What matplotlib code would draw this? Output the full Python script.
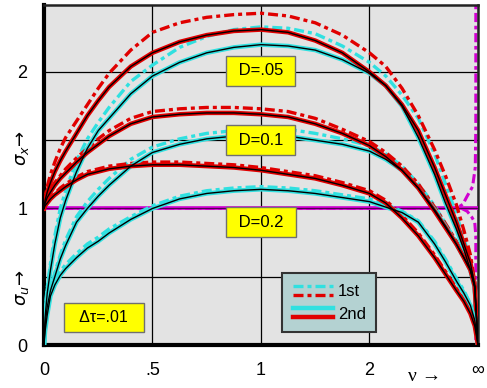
import matplotlib
matplotlib.use("Agg")
import matplotlib.pyplot as plt
from matplotlib.lines import Line2D
from matplotlib.legend_handler import HandlerBase

plt.rcParams['font.family'] = ['Liberation Sans', 'DejaVu Sans']

# x positions on the equally spaced frequency axis (0, .5, 1, 2, inf -> 0..4)
NU_POS = [0, 0.01, 0.03, 0.06, 0.1, 0.15, 0.2, 0.3, 0.4, 0.5, 0.6, 0.8, 1.0, 1.25, 1.5, 1.75,
          2.0, 2.25, 2.5, 2.75, 3.0, 3.15, 3.3, 3.45, 3.6, 3.7, 3.8, 3.87, 3.93, 3.97, 4.0]
X_TICK_POS = [0, 1, 2, 3, 4]
X_TICK_LABELS = ['0', '.5', '1', '2', '\u221e']
Y_TICK_POS = [0, 0.5, 1, 1.5, 2]
Y_TICK_LABELS = ['0', '', '1', '', '2']

# D = .05
sx_1st_d05 = [1.0, 1.08, 1.16, 1.25, 1.34, 1.44, 1.52, 1.64, 1.76, 1.88, 1.99, 2.16, 2.29, 2.36,
              2.40, 2.42, 2.43, 2.41, 2.36, 2.27, 2.14, 2.04, 1.88, 1.68, 1.43, 1.24, 1.03,
              0.84, 0.66, 0.46, 0.0]
sx_2nd_d05 = [1.0, 1.06, 1.12, 1.19, 1.27, 1.35, 1.42, 1.55, 1.68, 1.79, 1.89, 2.04, 2.14, 2.22,
              2.27, 2.30, 2.31, 2.29, 2.23, 2.14, 2.0, 1.90, 1.76, 1.57, 1.30, 1.10, 0.90,
              0.74, 0.60, 0.44, 0.0]
su_1st_d05 = [0.0, 0.22, 0.42, 0.60, 0.80, 1.0, 1.13, 1.35, 1.51, 1.63, 1.74, 1.93, 2.05, 2.18,
              2.26, 2.31, 2.33, 2.32, 2.28, 2.19, 2.07, 1.97, 1.83, 1.66, 1.40, 1.18, 0.96,
              0.78, 0.62, 0.45, 0.0]
su_2nd_d05 = [0.0, 0.2, 0.38, 0.55, 0.74, 0.93, 1.06, 1.27, 1.44, 1.57, 1.66, 1.84, 1.97, 2.07,
              2.14, 2.18, 2.20, 2.19, 2.16, 2.09, 1.99, 1.90, 1.75, 1.52, 1.25, 1.04, 0.85,
              0.70, 0.55, 0.42, 0.0]
# D = 0.1
sx_1st_d1 = [1.0, 1.05, 1.09, 1.14, 1.19, 1.24, 1.29, 1.37, 1.44, 1.51, 1.57, 1.66, 1.71, 1.73,
             1.74, 1.74, 1.73, 1.71, 1.66, 1.58, 1.49, 1.41, 1.31, 1.18, 1.01, 0.89, 0.76,
             0.66, 0.56, 0.44, 0.0]
sx_2nd_d1 = [1.0, 1.04, 1.08, 1.12, 1.17, 1.22, 1.26, 1.34, 1.41, 1.47, 1.53, 1.62, 1.67, 1.69,
             1.70, 1.70, 1.69, 1.67, 1.62, 1.55, 1.46, 1.38, 1.28, 1.15, 0.98, 0.86, 0.74,
             0.64, 0.55, 0.43, 0.0]
su_1st_d1 = [0.0, 0.16, 0.30, 0.42, 0.53, 0.66, 0.77, 0.94, 1.05, 1.14, 1.22, 1.36, 1.45, 1.51,
             1.55, 1.57, 1.58, 1.58, 1.55, 1.51, 1.46, 1.40, 1.31, 1.18, 1.02, 0.89, 0.76,
             0.66, 0.56, 0.44, 0.0]
su_2nd_d1 = [0.0, 0.15, 0.28, 0.40, 0.50, 0.63, 0.73, 0.90, 1.0, 1.09, 1.17, 1.31, 1.41, 1.47,
             1.51, 1.53, 1.53, 1.53, 1.50, 1.47, 1.42, 1.36, 1.28, 1.15, 0.99, 0.87, 0.74,
             0.64, 0.55, 0.43, 0.0]
# D = 0.2
sx_1st_d2 = [1.0, 1.02, 1.05, 1.08, 1.11, 1.15, 1.18, 1.23, 1.27, 1.29, 1.31, 1.33, 1.34, 1.34,
             1.33, 1.32, 1.30, 1.27, 1.24, 1.19, 1.13, 1.06, 0.95, 0.82, 0.66, 0.54, 0.42,
             0.33, 0.24, 0.15, 0.0]
sx_2nd_d2 = [1.0, 1.02, 1.04, 1.07, 1.10, 1.13, 1.16, 1.21, 1.25, 1.27, 1.29, 1.31, 1.32, 1.32,
             1.31, 1.30, 1.28, 1.25, 1.22, 1.17, 1.11, 1.04, 0.93, 0.80, 0.64, 0.52, 0.40,
             0.32, 0.23, 0.14, 0.0]
su_1st_d2 = [0.0, 0.11, 0.24, 0.38, 0.47, 0.54, 0.59, 0.67, 0.74, 0.79, 0.85, 0.94, 1.02, 1.09,
             1.13, 1.15, 1.16, 1.15, 1.13, 1.10, 1.07, 1.03, 0.98, 0.91, 0.76, 0.63, 0.49,
             0.40, 0.30, 0.19, 0.0]
su_2nd_d2 = [0.0, 0.10, 0.22, 0.36, 0.44, 0.51, 0.56, 0.64, 0.71, 0.76, 0.82, 0.92, 1.0, 1.07,
             1.11, 1.13, 1.14, 1.13, 1.11, 1.08, 1.05, 1.01, 0.97, 0.90, 0.74, 0.61, 0.47,
             0.38, 0.29, 0.18, 0.0]

# D = 0 (magenta)
mag_2nd_x = [0, 4]
mag_2nd_y = [1, 1]
mag_up_x = [0, 3.8, 3.86, 3.9, 3.95, 3.975, 3.98, 3.98]
mag_up_y = [1, 1, 1.03, 1.09, 1.16, 1.3, 1.6, 2.49]
mag_lo_x = [3.85, 3.9, 3.94, 3.97, 3.98, 3.98]
mag_lo_y = [1.0, 0.98, 0.94, 0.9, 0.8, 0.0]

labels_D = ['D=.05', 'D=0.1', 'D=0.2']
label_pos_x = [2, 2, 2]
label_pos_y = [2.01, 1.50, 0.90]

RED = '#e00000'
CYAN = '#30e0e0'
MAG = '#d000d0'
DASH = (3, 1.2, 1.2, 1.2)

fig = plt.figure(figsize=(4.87, 3.88), dpi=100)
ax = fig.add_axes([0.0903, 0.1108, 0.8912, 0.8762])
ax.set_facecolor('#e3e3e3')

# magenta D=0
ax.plot(mag_up_x, mag_up_y, color=MAG, lw=2.2, dashes=DASH, zorder=2)
ax.plot(mag_lo_x, mag_lo_y, color=MAG, lw=2.2, dashes=DASH, zorder=2)
ax.plot(mag_2nd_x, mag_2nd_y, color=MAG, lw=2.6, zorder=3)
ax.plot(mag_2nd_x, mag_2nd_y, color='#500050', lw=0.8, zorder=3)

groups = [(sx_1st_d05, sx_2nd_d05, su_1st_d05, su_2nd_d05),
          (sx_1st_d1, sx_2nd_d1, su_1st_d1, su_2nd_d1),
          (sx_1st_d2, sx_2nd_d2, su_1st_d2, su_2nd_d2)]
for sx1, sx2, su1, su2 in groups:
    ax.plot(NU_POS, su1, color=CYAN, lw=2.4, dashes=DASH, zorder=3)
    ax.plot(NU_POS, sx1, color=RED, lw=2.4, dashes=DASH, zorder=3)
    ax.plot(NU_POS, su2, color=CYAN, lw=3.2, zorder=4, solid_joinstyle='round')
    ax.plot(NU_POS, sx2, color=RED, lw=3.2, zorder=4, solid_joinstyle='round')
    ax.plot(NU_POS, su2, color='black', lw=1.0, zorder=5)
    ax.plot(NU_POS, sx2, color='black', lw=1.0, zorder=5)

for t, x, y in zip(labels_D, label_pos_x, label_pos_y):
    ax.text(x, y, ' ' + t + ' ', ha='center', va='center', fontsize=12, zorder=6,
            bbox=dict(boxstyle='square,pad=0.45', fc='#ffff00', ec='#707070', lw=1))

ax.text(0.55, 0.2, '  \u0394\u03c4=.01  ', ha='center', va='center', fontsize=11.5, zorder=6,
        bbox=dict(boxstyle='square,pad=0.45', fc='#ffff00', ec='#707070', lw=1))


class StackHandler(HandlerBase):
    def create_artists(self, legend, orig_handle, xdescent, ydescent, width, height,
                       fontsize, trans):
        top, bot = orig_handle
        arts = []
        for h, yy in ((top, 0.95 * height), (bot, 0.05 * height)):
            ln = Line2D([-xdescent, -xdescent + width], [yy - ydescent, yy - ydescent],
                        color=h.get_color(), lw=h.get_linewidth(),
                        linestyle=h.get_linestyle())
            if h.get_linestyle() != '-':
                ln.set_dashes(DASH)
            ln.set_transform(trans)
            arts.append(ln)
        return arts


h1 = (Line2D([], [], color=CYAN, lw=2.4, ls='--'), Line2D([], [], color=RED, lw=2.4, ls='--'))
h2 = (Line2D([], [], color=CYAN, lw=3.2, ls='-'), Line2D([], [], color=RED, lw=3.2, ls='-'))
leg = ax.legend([h1, h2], ['1st', '2nd'], handler_map={tuple: StackHandler()},
                loc='lower left', bbox_to_anchor=(0.548, 0.037), fontsize=12,
                handlelength=2.4, handleheight=0.55, handletextpad=0.3, labelspacing=0.45,
                borderpad=0.65, borderaxespad=0, fancybox=False, framealpha=1,
                facecolor='#b4d2d2', edgecolor='#333333')
leg.get_frame().set_linewidth(1.5)
leg.set_zorder(7)

ax.set_xlim(0, 4)
ax.set_ylim(0, 2.49)
ax.set_xticks(X_TICK_POS)
ax.set_xticklabels(X_TICK_LABELS, fontsize=13)
ax.set_yticks(Y_TICK_POS)
ax.set_yticklabels(Y_TICK_LABELS, fontsize=13)
ax.tick_params(length=0)
ax.tick_params(axis='y', pad=12)
ax.tick_params(axis='x', pad=12)
ax.grid(True, color='black', lw=0.9)
ax.set_axisbelow(True)
for side in ['left', 'bottom']:
    ax.spines[side].set_linewidth(3)
for side in ['top', 'right']:
    ax.spines[side].set_linewidth(1.8)
    ax.spines[side].set_color('#222222')

ax.text(-0.05, 0.58, r'$\sigma_x\!\rightarrow$', transform=ax.transAxes, rotation=90,
        ha='center', va='center', fontsize=13)
ax.text(-0.05, 0.17, r'$\sigma_u\!\rightarrow$', transform=ax.transAxes, rotation=90,
        ha='center', va='center', fontsize=13)
ax.text(0.878, -0.094, '\u03bd \u2192', transform=ax.transAxes, ha='center', va='center',
        fontsize=14, family=['Liberation Serif', 'DejaVu Serif'])

fig.savefig('out.png', dpi=100)
